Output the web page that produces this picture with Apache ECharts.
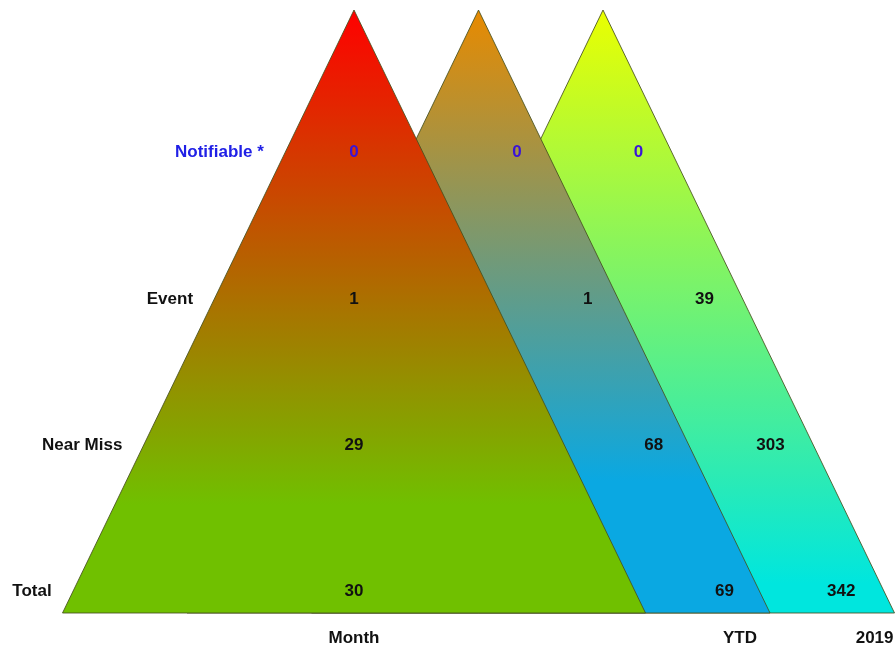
<!DOCTYPE html>
<html>
<head>
<meta charset="utf-8">
<script src="https://cdn.jsdelivr.net/npm/echarts@6/dist/echarts.min.js"></script>
<style>
  html, body { margin: 0; padding: 0; background: #ffffff; }
  #chart { width: 895px; height: 650px; }
</style>
</head>
<body>
<div id="chart"></div>
<script>
// Periods, one triangle each
const columns = ['Month', 'YTD', '2019'];
// Rows, bottom to top
const rows = ['Total', 'Near Miss', 'Event', 'Notifiable *'];
// Counts per period, in row order (Total, Near Miss, Event, Notifiable)
const monthValues = [30, 29, 1, 0];
const ytdValues = [69, 68, 1, 0];
const yearValues = [342, 303, 39, 0];

const valuesByColumn = [monthValues, ytdValues, yearValues];

// Layout of the triangles in x-axis units
const apexX = [354, 478.5, 603];
const halfBase = 291.5;
const yBase = -0.157;
const yTop = 3.964;

const gradients = [
  [[0, '#ff0000'], [0.82, '#70c000'], [1, '#70c000']],
  [[0, '#e88a00'], [0.78, '#0aa8e2'], [1, '#0aa8e2']],
  [[0, '#eaff00'], [0.95, '#00e6de'], [1, '#00e6de']]
];

const FONT = 'bold 17px "Liberation Sans", Arial, sans-serif';
const BLUE = '#2020e6';
const VALUE_BLUE = '#3a14d8';
const TEXT_DY = 1.5;

function edgeX(col, y, side) {
  const frac = (yTop - y) / (yTop - yBase);
  return apexX[col] + side * halfBase * frac;
}

// Triangle data, drawn back to front
const triangleData = [2, 1, 0].map(c => [c]);

// Value labels
const labelData = [];
valuesByColumn.forEach((vals, c) => {
  vals.forEach((v, r) => labelData.push([c, r, v]));
});

const rowLabelData = rows.map((name, r) => [r]);
const footerData = columns.map((name, c) => [c]);

const chart = echarts.init(document.getElementById('chart'));
chart.setOption({
  animation: false,
  grid: { left: 0, right: 0, top: 10, bottom: 37 },
  xAxis: { type: 'value', min: 0, max: 895, show: false },
  yAxis: { type: 'value', min: yBase, max: yTop, show: false },
  series: [
    {
      type: 'custom',
      data: triangleData,
      renderItem: function (params, api) {
        const c = api.value(0);
        const top = api.coord([apexX[c], yTop]);
        const left = api.coord([apexX[c] - halfBase, yBase]);
        const right = api.coord([apexX[c] + halfBase, yBase]);
        return {
          type: 'polygon',
          shape: { points: [top, right, left] },
          style: {
            fill: new echarts.graphic.LinearGradient(0, 0, 0, 1,
              gradients[c].map(s => ({ offset: s[0], color: s[1] }))),
            stroke: 'rgba(70, 80, 30, 0.85)',
            lineWidth: 1
          }
        };
      }
    },
    {
      type: 'custom',
      data: labelData,
      z: 5,
      renderItem: function (params, api) {
        const c = api.value(0);
        const r = api.value(1);
        const v = api.value(2);
        const color = r === 3 ? VALUE_BLUE : '#111111';
        let x, align;
        if (c === 0) {
          x = api.coord([apexX[0], r])[0];
          align = 'center';
        } else {
          const off = c === 1 ? 25 : 28;
          x = api.coord([edgeX(c, r, 1), r])[0] - off;
          align = 'right';
        }
        const y = api.coord([0, r])[1] + TEXT_DY;
        return {
          type: 'text',
          style: {
            text: String(v), x: x, y: y, font: FONT, fill: color,
            align: align, verticalAlign: 'middle'
          }
        };
      }
    },
    {
      type: 'custom',
      data: rowLabelData,
      z: 5,
      renderItem: function (params, api) {
        const r = api.value(0);
        const p = api.coord([edgeX(0, r, -1), r]);
        return {
          type: 'text',
          style: {
            text: rows[r], x: p[0] - 22, y: p[1] + TEXT_DY, font: FONT,
            fill: r === 3 ? BLUE : '#111111',
            align: 'right', verticalAlign: 'middle'
          }
        };
      }
    },
    {
      type: 'custom',
      data: footerData,
      z: 5,
      renderItem: function (params, api) {
        const c = api.value(0);
        const base = api.coord([apexX[c], yBase]);
        let x, align;
        if (c === 0) {
          x = base[0];
          align = 'center';
        } else {
          const rightEnd = api.coord([apexX[c] + halfBase, yBase])[0];
          x = rightEnd - (c === 1 ? 13 : 1);
          align = 'right';
        }
        return {
          type: 'text',
          style: {
            text: columns[c], x: x, y: base[1] + 25, font: FONT,
            fill: '#111111', align: align, verticalAlign: 'middle'
          }
        };
      }
    }
  ]
});
</script>
</body>
</html>
